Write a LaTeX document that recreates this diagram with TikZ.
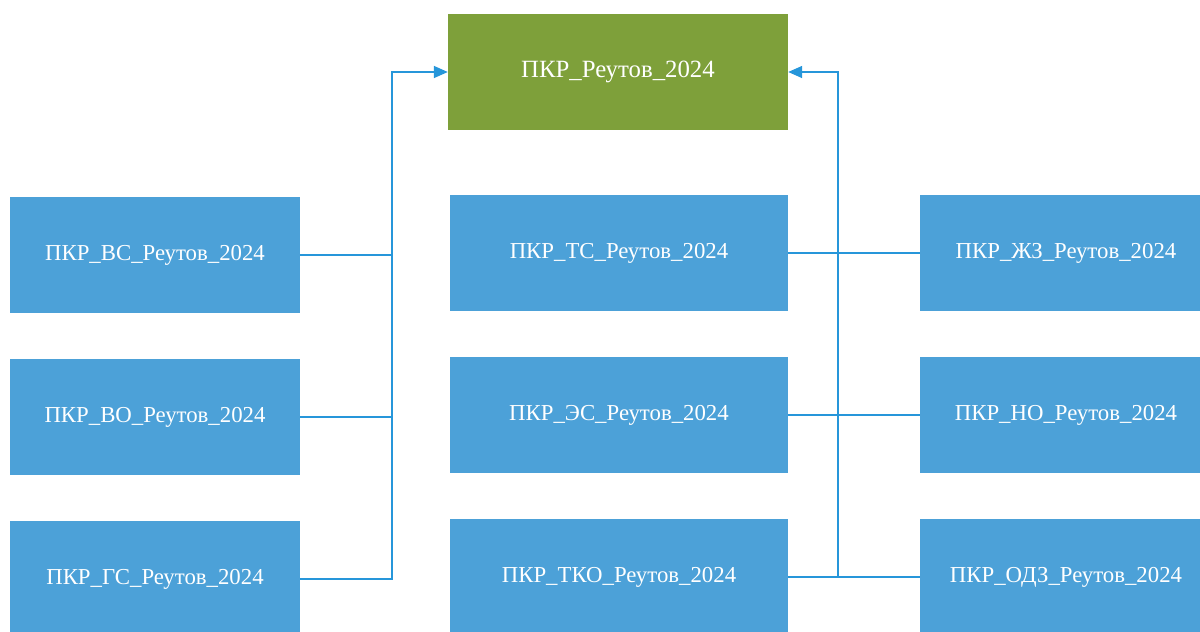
\documentclass[tikz,border=0pt]{standalone}
\usepackage{fontspec}
\setmainfont{Liberation Serif}
\usetikzlibrary{arrows.meta}
\definecolor{boxgreen}{RGB}{126,160,58}
\definecolor{boxblue}{RGB}{76,161,216}
\definecolor{linkblue}{RGB}{38,150,218}
\begin{document}
\begin{tikzpicture}[x=1pt, y=-1pt,
    box/.style={rectangle, fill=boxblue, text=white, minimum height=116pt, minimum width=290pt, inner sep=0pt, font=\fontsize{22.8}{26}\selectfont},
    mainbox/.style={box, fill=boxgreen, minimum width=340pt, font=\fontsize{24.8}{28}\selectfont},
    link/.style={linkblue, line width=1.5pt},
    arrow/.style={link, -{Triangle[length=14pt, width=12pt]}}
]
    \useasboundingbox (0,0) rectangle (1200,632);
    \clip (0,0) rectangle (1200,632);

    \node[mainbox] (pkr) at (618,72) {ПКР\_Реутов\_2024};

    \node[box] (vs) at (155,255) {ПКР\_ВС\_Реутов\_2024};
    \node[box] (vo) at (155,417) {ПКР\_ВО\_Реутов\_2024};
    \node[box] (gs) at (155,579) {ПКР\_ГС\_Реутов\_2024};

    \node[box, minimum width=338pt] (ts) at (619,253) {ПКР\_ТС\_Реутов\_2024};
    \node[box, minimum width=338pt] (es) at (619,415) {ПКР\_ЭС\_Реутов\_2024};
    \node[box, minimum width=338pt] (tko) at (619,577) {ПКР\_ТКО\_Реутов\_2024};

    \node[box, minimum width=292pt] (zhz) at (1066,253) {ПКР\_ЖЗ\_Реутов\_2024};
    \node[box, minimum width=292pt] (no) at (1066,415) {ПКР\_НО\_Реутов\_2024};
    \node[box, minimum width=292pt] (odz) at (1066,577) {ПКР\_ОДЗ\_Реутов\_2024};

    \coordinate (jl) at (392,579);
    \coordinate (jr) at (838,577);

    % left side
    \draw[arrow] (gs.east) -- (jl) |- (pkr.west);
    \draw[link] (vs.east) -- (vs.east -| jl);
    \draw[link] (vo.east) -- (vo.east -| jl);

    % right side
    \draw[arrow] (odz.west) -- (jr) |- (pkr.east);
    \draw[link] (tko.east) -- (jr);
    \draw[link] (ts.east) -- (zhz.west);
    \draw[link] (es.east) -- (no.west);
\end{tikzpicture}
\end{document}
